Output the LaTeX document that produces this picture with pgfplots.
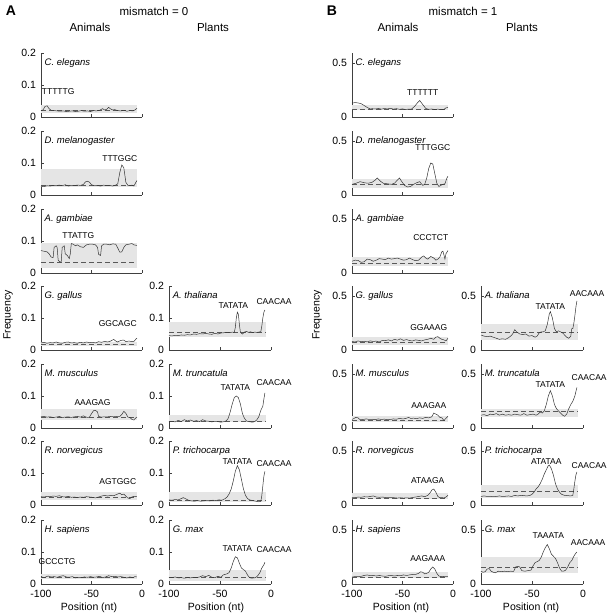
\documentclass[border=0pt]{standalone}
\usepackage{pgfplots}
\pgfplotsset{compat=1.18}
\usepackage{fontspec}
\setmainfont{Liberation Sans}
\definecolor{bandgray}{rgb}{0.9,0.9,0.9}
\pgfplotsset{
  base/.style={scale only axis, height=64pt, xmin=-100, xmax=0, ymin=0,
    axis x line*=bottom, axis y line*=left, tick align=inside, major tick length=2.5pt,
    xtick={-100,-50,0}, xticklabels={}, clip=false, anchor=south west,
    axis line style={line width=0.5pt, black!75}, every tick/.style={line width=0.5pt, black!75},
    tick label style={font=\fontsize{10.5}{12}\selectfont},
    yticklabel style={xshift=-1.5pt, yshift=0.5pt}, xticklabel style={yshift=-2.5pt}},
  colA/.style={base, width=101pt, ymax=0.2, ytick={0,0.1,0.2}, yticklabels={0,0.1,0.2}},
  colA2/.style={base, width=102pt, ymax=0.2, ytick={0,0.1,0.2}, yticklabels={0,0.1,0.2}},
  colB/.style={base, width=101pt, ymax=0.6, ytick={0,0.5}, yticklabels={0,0.5}},
  colB2/.style={base, width=102pt, ymax=0.6, ytick={0,0.5}, yticklabels={0,0.5}},
  bottomrow/.style={xticklabels={-100,-50,0}},
  dline/.style={black!80, line width=0.5pt, mark=none},
  mline/.style={black!65, line width=0.5pt, dash pattern=on 5pt off 3pt},
  bandfill/.style={fill=bandgray, draw=none},
}
\newcommand{\band}[3]{\addplot[bandfill] coordinates {(-100,#1) (#3,#1) (#3,#2) (-100,#2)};}
\newcommand{\mean}[2]{\addplot[mline] coordinates {(-100,#1) (#2,#1)};}
\newcommand{\spname}[1]{\node[anchor=west,inner sep=0,font=\itshape\fontsize{9.5}{11}\selectfont] at (rel axis cs:0.035,0.85) {#1};}
\newcommand{\motif}[3]{\node[inner sep=0,font=\fontsize{8.5}{10}\selectfont] at (axis cs:#1,#2) {#3};}
\begin{document}
\begin{tikzpicture}[x=1pt,y=1pt]
\useasboundingbox (0,0) rectangle (608,615);
% ---------- titles ----------
\node[font=\bfseries\fontsize{14}{16}\selectfont] at (11,604) {A};
\node[font=\fontsize{11.5}{13}\selectfont] at (154,604) {mismatch = 0};
\node[font=\fontsize{11.5}{13}\selectfont] at (90,588) {Animals};
\node[font=\fontsize{11.5}{13}\selectfont] at (213,588) {Plants};
\node[font=\bfseries\fontsize{14}{16}\selectfont] at (332,604) {B};
\node[font=\fontsize{11.5}{13}\selectfont] at (463,604) {mismatch = 1};
\node[font=\fontsize{11.5}{13}\selectfont] at (398,588) {Animals};
\node[font=\fontsize{11.5}{13}\selectfont] at (522,588) {Plants};
\node[rotate=90,font=\fontsize{10.5}{12}\selectfont] at (8,300) {Frequency};
\node[rotate=90,font=\fontsize{10.5}{12}\selectfont] at (317,300) {Frequency};
\node[font=\fontsize{10.5}{12}\selectfont] at (89,7) {Position (nt)};
\node[font=\fontsize{10.5}{12}\selectfont] at (216,7) {Position (nt)};
\node[font=\fontsize{10.5}{12}\selectfont] at (401,7) {Position (nt)};
\node[font=\fontsize{10.5}{12}\selectfont] at (531,7) {Position (nt)};

% ================= PANEL A : animals =================
\begin{axis}[colA, at={(41pt,498pt)}]
\band{0.0125}{0.0375}{-5}
\mean{0.02}{-5}
\addplot[dline] coordinates {(-100,0.02)(-98,0.022)(-96,0.033)(-94,0.035)(-92,0.026)(-90,0.021)(-87,0.02)(-84,0.019)(-81,0.018)(-78,0.019)(-75,0.017)(-72,0.018)(-69,0.019)(-66,0.017)(-63,0.018)(-60,0.02)(-57,0.018)(-54,0.019)(-51,0.017)(-48,0.02)(-45,0.019)(-42,0.021)(-39,0.026)(-37,0.022)(-35,0.024)(-33,0.03)(-31,0.025)(-29,0.022)(-27,0.023)(-24,0.02)(-21,0.019)(-18,0.021)(-15,0.018)(-12,0.02)(-9,0.019)(-7,0.022)(-5,0.027)};
\spname{C. elegans}
\motif{-83}{0.078}{TTTTTG}
\end{axis}

\begin{axis}[colA, at={(41pt,420pt)}]
\band{0.025}{0.08}{-5}
\mean{0.03}{-5}
\addplot[dline] coordinates {(-100,0.027)(-97,0.026)(-94,0.029)(-91,0.028)(-88,0.03)(-85,0.029)(-82,0.031)(-79,0.029)(-76,0.032)(-73,0.028)(-70,0.03)(-67,0.029)(-64,0.031)(-61,0.03)(-58,0.033)(-56,0.041)(-54,0.043)(-52,0.04)(-50,0.032)(-47,0.029)(-44,0.03)(-41,0.028)(-38,0.031)(-35,0.029)(-32,0.03)(-29,0.028)(-26,0.031)(-24,0.035)(-22,0.07)(-20,0.094)(-18,0.085)(-16,0.04)(-14,0.03)(-12,0.029)(-10,0.031)(-8,0.028)(-6,0.04)(-5,0.045)};
\spname{D. melanogaster}
\motif{-22}{0.115}{TTTGGC}
\end{axis}

\begin{axis}[colA, at={(41pt,342pt)}]
\band{0.016}{0.093}{-5}
\mean{0.034}{-5}
\addplot[dline] coordinates {(-100,0.07)(-97,0.068)(-94,0.066)(-92,0.06)(-90,0.05)(-88,0.048)(-87,0.08)(-85,0.085)(-84,0.08)(-83,0.04)(-81,0.034)(-80,0.035)(-79,0.08)(-77,0.085)(-76,0.06)(-74,0.055)(-72,0.045)(-71,0.06)(-70,0.092)(-68,0.09)(-66,0.085)(-64,0.088)(-61,0.082)(-58,0.08)(-55,0.088)(-52,0.09)(-49,0.09)(-46,0.088)(-44,0.08)(-43,0.058)(-41,0.055)(-40,0.085)(-38,0.09)(-35,0.09)(-32,0.088)(-29,0.091)(-26,0.09)(-24,0.078)(-22,0.065)(-20,0.066)(-18,0.08)(-16,0.088)(-13,0.09)(-10,0.092)(-8,0.088)(-5,0.086)};
\spname{A. gambiae}
\motif{-63}{0.118}{TTATTG}
\end{axis}

\begin{axis}[colA, at={(41pt,265pt)}]
\band{0.012}{0.025}{-5}
\mean{0.017}{-5}
\addplot[dline] coordinates {(-100,0.022)(-97,0.024)(-94,0.021)(-91,0.023)(-88,0.022)(-85,0.025)(-82,0.022)(-79,0.021)(-76,0.024)(-73,0.025)(-70,0.022)(-67,0.023)(-64,0.021)(-61,0.024)(-58,0.022)(-55,0.025)(-52,0.023)(-49,0.024)(-46,0.022)(-43,0.026)(-40,0.024)(-37,0.027)(-34,0.025)(-31,0.028)(-28,0.033)(-26,0.028)(-24,0.025)(-21,0.03)(-18,0.031)(-16,0.026)(-13,0.028)(-10,0.026)(-8,0.027)(-6,0.034)(-5,0.037)};
\spname{G. gallus}
\motif{-24}{0.084}{GGCAGC}
\end{axis}

\begin{axis}[colA, at={(41pt,187pt)}]
\band{0.025}{0.058}{-5}
\mean{0.035}{-5}
\addplot[dline] coordinates {(-100,0.035)(-97,0.036)(-94,0.034)(-91,0.035)(-88,0.033)(-85,0.034)(-82,0.036)(-79,0.033)(-76,0.034)(-73,0.035)(-70,0.033)(-67,0.035)(-64,0.036)(-61,0.034)(-58,0.038)(-56,0.035)(-54,0.033)(-52,0.034)(-50,0.045)(-48,0.054)(-46,0.055)(-44,0.05)(-43,0.036)(-40,0.034)(-37,0.035)(-34,0.035)(-31,0.036)(-28,0.035)(-25,0.036)(-22,0.036)(-20,0.042)(-18,0.052)(-16,0.046)(-14,0.034)(-12,0.033)(-10,0.027)(-8,0.025)(-6,0.032)(-5,0.034)};
\spname{M. musculus}
\motif{-49}{0.08}{AAAGAG}
\end{axis}

\begin{axis}[colA, at={(41pt,110pt)}]
\band{0.016}{0.04}{-5}
\mean{0.025}{-5}
\addplot[dline] coordinates {(-100,0.026)(-97,0.025)(-94,0.027)(-91,0.026)(-88,0.028)(-85,0.027)(-82,0.029)(-79,0.026)(-76,0.025)(-73,0.027)(-70,0.024)(-67,0.025)(-64,0.023)(-61,0.025)(-58,0.024)(-55,0.026)(-52,0.025)(-49,0.024)(-46,0.022)(-43,0.025)(-40,0.028)(-37,0.03)(-34,0.028)(-31,0.03)(-28,0.029)(-25,0.033)(-22,0.037)(-20,0.032)(-18,0.034)(-16,0.028)(-14,0.022)(-12,0.02)(-10,0.025)(-8,0.027)(-5,0.026)};
\spname{R. norvegicus}
\motif{-24}{0.073}{AGTGGC}
\end{axis}

\begin{axis}[colA, bottomrow, at={(41pt,31pt)}]
\band{0.015}{0.03}{-5}
\mean{0.022}{-5}
\addplot[dline] coordinates {(-100,0.024)(-98,0.02)(-96,0.021)(-93,0.025)(-90,0.022)(-87,0.023)(-84,0.021)(-81,0.024)(-78,0.026)(-75,0.022)(-72,0.021)(-69,0.023)(-66,0.019)(-63,0.021)(-60,0.02)(-57,0.022)(-54,0.021)(-51,0.023)(-48,0.021)(-45,0.022)(-42,0.024)(-39,0.02)(-36,0.022)(-33,0.026)(-30,0.023)(-27,0.024)(-24,0.022)(-21,0.023)(-18,0.021)(-15,0.019)(-12,0.022)(-9,0.02)(-7,0.023)(-5,0.022)};
\spname{H. sapiens}
\motif{-84}{0.07}{GCCCTG}
\end{axis}

% ================= PANEL A : plants =================
\begin{axis}[colA2, at={(169pt,265pt)}]
\band{0.042}{0.087}{-5}
\mean{0.057}{-5}
\addplot[dline] coordinates {(-100,0.045)(-97,0.044)(-94,0.046)(-91,0.045)(-88,0.047)(-85,0.046)(-82,0.048)(-79,0.047)(-76,0.05)(-73,0.049)(-70,0.051)(-67,0.05)(-64,0.052)(-61,0.05)(-58,0.049)(-55,0.052)(-52,0.05)(-49,0.053)(-46,0.054)(-43,0.055)(-40,0.054)(-38,0.056)(-36,0.055)(-35,0.07)(-34,0.1)(-33,0.118)(-32,0.112)(-31,0.08)(-30,0.055)(-28,0.05)(-26,0.056)(-24,0.058)(-22,0.055)(-20,0.057)(-18,0.054)(-16,0.056)(-14,0.055)(-12,0.056)(-10,0.057)(-9,0.075)(-8,0.1)(-7,0.118)(-6,0.125)};
\spname{A. thaliana}
\motif{-37}{0.14}{TATATA}
\motif{3}{0.15}{CAACAA}
\end{axis}

\begin{axis}[colA2, at={(169pt,187pt)}]
\band{0.02}{0.04}{-5}
\mean{0.02}{-5}
\addplot[dline] coordinates {(-100,0.02)(-97,0.021)(-94,0.019)(-91,0.024)(-88,0.02)(-85,0.026)(-82,0.022)(-79,0.025)(-76,0.021)(-73,0.023)(-70,0.02)(-67,0.026)(-64,0.022)(-61,0.021)(-58,0.019)(-55,0.021)(-52,0.02)(-49,0.018)(-46,0.02)(-44,0.022)(-42,0.03)(-40,0.05)(-38,0.075)(-36,0.095)(-34,0.1)(-32,0.095)(-30,0.075)(-28,0.045)(-26,0.03)(-24,0.022)(-22,0.02)(-20,0.019)(-18,0.018)(-16,0.02)(-14,0.025)(-12,0.035)(-10,0.055)(-9,0.062)(-8,0.068)(-7,0.09)(-6,0.11)};
\spname{M. truncatula}
\motif{-35}{0.125}{TATATA}
\motif{3}{0.142}{CAACAA}
\end{axis}

\begin{axis}[colA2, at={(169pt,110pt)}]
\band{0.01}{0.042}{-5}
\mean{0.015}{-5}
\addplot[dline] coordinates {(-100,0.016)(-97,0.015)(-94,0.017)(-91,0.016)(-88,0.02)(-86,0.023)(-84,0.02)(-81,0.015)(-78,0.013)(-75,0.012)(-72,0.014)(-69,0.012)(-66,0.013)(-63,0.014)(-60,0.013)(-57,0.015)(-54,0.014)(-51,0.016)(-48,0.015)(-45,0.02)(-43,0.025)(-41,0.035)(-39,0.05)(-37,0.075)(-35,0.105)(-33,0.123)(-31,0.11)(-29,0.08)(-27,0.05)(-25,0.03)(-23,0.02)(-21,0.016)(-18,0.014)(-15,0.012)(-12,0.01)(-10,0.011)(-9,0.03)(-8,0.06)(-7,0.09)(-6,0.105)};
\spname{P. trichocarpa}
\motif{-33}{0.135}{TATATA}
\motif{3}{0.13}{CAACAA}
\end{axis}

\begin{axis}[colA2, bottomrow, at={(169pt,31pt)}]
\band{0.008}{0.045}{-5}
\mean{0.02}{-5}
\addplot[dline] coordinates {(-100,0.021)(-97,0.02)(-94,0.022)(-91,0.019)(-88,0.02)(-85,0.018)(-82,0.02)(-79,0.019)(-76,0.021)(-73,0.02)(-70,0.022)(-67,0.026)(-64,0.023)(-61,0.027)(-58,0.021)(-55,0.02)(-52,0.024)(-49,0.021)(-47,0.028)(-45,0.03)(-43,0.032)(-41,0.036)(-39,0.05)(-37,0.07)(-35,0.085)(-33,0.082)(-31,0.065)(-29,0.05)(-27,0.045)(-25,0.04)(-23,0.028)(-21,0.02)(-19,0.018)(-17,0.019)(-15,0.02)(-13,0.026)(-11,0.035)(-9,0.05)(-7,0.06)(-6,0.068)};
\spname{G. max}
\motif{-33}{0.111}{TATATA}
\motif{3}{0.108}{CAACAA}
\end{axis}

% ================= PANEL B : animals =================
\begin{axis}[colB, at={(352pt,498pt)}]
\band{0.066}{0.11}{-5}
\mean{0.075}{-5}
\addplot[dline] coordinates {(-100,0.13)(-97,0.135)(-94,0.132)(-91,0.125)(-88,0.108)(-85,0.09)(-82,0.075)(-80,0.078)(-77,0.075)(-74,0.08)(-71,0.074)(-68,0.079)(-65,0.076)(-62,0.081)(-59,0.074)(-56,0.078)(-53,0.072)(-50,0.076)(-47,0.07)(-44,0.074)(-41,0.075)(-38,0.1)(-35,0.135)(-33,0.155)(-31,0.13)(-29,0.105)(-27,0.08)(-24,0.072)(-21,0.075)(-18,0.07)(-15,0.074)(-12,0.068)(-9,0.072)(-7,0.085)(-5,0.09)};
\spname{C. elegans}
\motif{-30}{0.23}{TTTTTT}
\end{axis}

\begin{axis}[colB, at={(352pt,420pt)}]
\band{0.063}{0.147}{-5}
\mean{0.1}{-5}
\addplot[dline] coordinates {(-100,0.1)(-96,0.11)(-92,0.125)(-88,0.115)(-84,0.11)(-80,0.12)(-77,0.14)(-75,0.16)(-72,0.13)(-69,0.11)(-65,0.105)(-61,0.1)(-58,0.11)(-55,0.14)(-53,0.16)(-51,0.13)(-48,0.09)(-45,0.075)(-42,0.08)(-39,0.1)(-36,0.115)(-33,0.125)(-30,0.09)(-28,0.1)(-26,0.16)(-24,0.25)(-22,0.3)(-20,0.29)(-18,0.2)(-16,0.11)(-14,0.08)(-12,0.09)(-10,0.1)(-8,0.105)(-6,0.16)(-5,0.175)};
\spname{D. melanogaster}
\motif{-20}{0.44}{TTTGGC}
\end{axis}

\begin{axis}[colB, at={(352pt,342pt)}]
\band{0.07}{0.15}{-5}
\mean{0.095}{-5}
\addplot[dline] coordinates {(-100,0.11)(-97,0.12)(-94,0.118)(-91,0.1)(-88,0.105)(-85,0.13)(-82,0.125)(-79,0.11)(-76,0.12)(-73,0.135)(-70,0.13)(-67,0.125)(-64,0.14)(-61,0.13)(-58,0.135)(-55,0.14)(-52,0.13)(-49,0.12)(-46,0.125)(-43,0.14)(-40,0.125)(-37,0.115)(-34,0.12)(-31,0.15)(-29,0.16)(-27,0.14)(-25,0.13)(-22,0.155)(-19,0.14)(-17,0.12)(-15,0.13)(-13,0.15)(-11,0.2)(-10,0.205)(-9,0.17)(-8,0.13)(-7,0.18)(-5,0.21)};
\spname{A. gambiae}
\motif{-22}{0.33}{CCCTCT}
\end{axis}

\begin{axis}[colB, at={(352pt,265pt)}]
\band{0.047}{0.12}{-5}
\mean{0.069}{-5}
\addplot[dline] coordinates {(-100,0.08)(-97,0.075)(-94,0.085)(-91,0.078)(-88,0.082)(-85,0.076)(-82,0.085)(-79,0.08)(-76,0.083)(-73,0.075)(-70,0.09)(-67,0.088)(-64,0.095)(-61,0.085)(-58,0.1)(-55,0.092)(-52,0.105)(-49,0.09)(-46,0.098)(-43,0.088)(-40,0.085)(-37,0.095)(-34,0.09)(-31,0.085)(-28,0.095)(-25,0.1)(-22,0.11)(-19,0.1)(-17,0.12)(-15,0.125)(-13,0.11)(-11,0.1)(-9,0.095)(-7,0.085)(-5,0.11)};
\spname{G. gallus}
\motif{-24}{0.21}{GGAAAG}
\end{axis}

\begin{axis}[colB, at={(352pt,187pt)}]
\band{0.06}{0.11}{-5}
\mean{0.068}{-5}
\addplot[dline] coordinates {(-100,0.08)(-98,0.09)(-96,0.1)(-94,0.095)(-92,0.078)(-89,0.08)(-86,0.085)(-83,0.08)(-80,0.082)(-77,0.078)(-74,0.085)(-71,0.08)(-68,0.083)(-65,0.078)(-62,0.08)(-59,0.085)(-56,0.082)(-53,0.09)(-50,0.085)(-47,0.088)(-44,0.1)(-42,0.09)(-39,0.092)(-36,0.088)(-33,0.095)(-30,0.09)(-27,0.1)(-24,0.095)(-21,0.105)(-19,0.14)(-17,0.13)(-15,0.12)(-13,0.1)(-11,0.095)(-9,0.07)(-7,0.09)(-5,0.11)};
\spname{M. musculus}
\motif{-24}{0.21}{AAAGAA}
\end{axis}

\begin{axis}[colB, at={(352pt,110pt)}]
\band{0.053}{0.11}{-5}
\mean{0.063}{-5}
\addplot[dline] coordinates {(-100,0.07)(-97,0.068)(-94,0.075)(-91,0.072)(-88,0.078)(-85,0.075)(-82,0.08)(-79,0.085)(-76,0.075)(-73,0.072)(-70,0.075)(-67,0.07)(-64,0.068)(-61,0.07)(-58,0.068)(-55,0.065)(-52,0.068)(-49,0.065)(-46,0.067)(-43,0.065)(-40,0.07)(-37,0.075)(-34,0.08)(-31,0.085)(-28,0.078)(-25,0.09)(-23,0.11)(-21,0.14)(-19,0.15)(-17,0.12)(-15,0.08)(-13,0.068)(-11,0.07)(-9,0.065)(-7,0.075)(-5,0.09)};
\spname{R. norvegicus}
\motif{-25}{0.225}{ATAAGA}
\end{axis}

\begin{axis}[colB, bottomrow, at={(352pt,31pt)}]
\band{0.053}{0.11}{-5}
\mean{0.065}{-5}
\addplot[dline] coordinates {(-100,0.065)(-97,0.07)(-94,0.068)(-91,0.072)(-88,0.08)(-85,0.085)(-82,0.078)(-79,0.08)(-76,0.075)(-73,0.08)(-70,0.075)(-67,0.072)(-64,0.078)(-61,0.08)(-58,0.075)(-55,0.08)(-52,0.078)(-49,0.085)(-46,0.08)(-43,0.085)(-40,0.09)(-37,0.09)(-34,0.1)(-32,0.115)(-30,0.11)(-28,0.095)(-26,0.1)(-24,0.11)(-22,0.14)(-20,0.16)(-18,0.14)(-16,0.1)(-14,0.075)(-12,0.07)(-10,0.072)(-8,0.068)(-5,0.07)};
\spname{H. sapiens}
\motif{-25}{0.24}{AAGAAA}
\end{axis}

% ================= PANEL B : plants =================
\begin{axis}[colB2, at={(481pt,265pt)}]
\band{0.094}{0.24}{-5}
\mean{0.166}{-5}
\addplot[dline] coordinates {(-100,0.14)(-97,0.13)(-94,0.125)(-91,0.13)(-88,0.12)(-85,0.11)(-82,0.1)(-79,0.105)(-76,0.1)(-73,0.115)(-71,0.13)(-69,0.15)(-67,0.19)(-65,0.17)(-62,0.15)(-59,0.145)(-56,0.15)(-53,0.13)(-50,0.135)(-47,0.12)(-45,0.13)(-43,0.16)(-41,0.17)(-39,0.17)(-37,0.18)(-35,0.24)(-33,0.34)(-32,0.36)(-30,0.3)(-28,0.2)(-26,0.17)(-24,0.18)(-22,0.17)(-20,0.16)(-18,0.14)(-16,0.12)(-14,0.11)(-12,0.13)(-11,0.2)(-10,0.2)(-9,0.25)(-8,0.32)(-7,0.4)(-6,0.46)};
\spname{A. thaliana}
\motif{-32}{0.41}{TATATA}
\motif{4}{0.53}{AACAAA}
\end{axis}

\begin{axis}[colB2, at={(481pt,187pt)}]
\band{0.106}{0.175}{-5}
\mean{0.16}{-5}
\addplot[dline] coordinates {(-100,0.12)(-97,0.125)(-94,0.115)(-91,0.13)(-88,0.125)(-85,0.135)(-82,0.12)(-79,0.13)(-76,0.12)(-73,0.125)(-70,0.12)(-67,0.13)(-64,0.125)(-61,0.12)(-58,0.135)(-55,0.12)(-52,0.125)(-49,0.13)(-46,0.12)(-44,0.13)(-42,0.15)(-40,0.14)(-38,0.16)(-36,0.22)(-34,0.3)(-32,0.35)(-30,0.3)(-28,0.22)(-26,0.18)(-24,0.16)(-22,0.14)(-20,0.12)(-18,0.11)(-16,0.13)(-14,0.18)(-12,0.22)(-10,0.25)(-8,0.3)(-6,0.38)};
\spname{M. truncatula}
\motif{-32}{0.41}{TATATA}
\motif{6}{0.47}{CAACAA}
\end{axis}

\begin{axis}[colB2, at={(481pt,110pt)}]
\band{0.069}{0.19}{-5}
\mean{0.13}{-5}
\addplot[dline] coordinates {(-100,0.08)(-97,0.085)(-94,0.08)(-91,0.082)(-88,0.078)(-85,0.08)(-82,0.085)(-79,0.08)(-76,0.082)(-73,0.085)(-70,0.08)(-67,0.09)(-64,0.085)(-61,0.09)(-58,0.088)(-55,0.085)(-52,0.09)(-50,0.1)(-48,0.12)(-46,0.15)(-44,0.17)(-42,0.2)(-40,0.24)(-38,0.29)(-36,0.33)(-34,0.37)(-33,0.375)(-31,0.34)(-29,0.28)(-27,0.2)(-25,0.15)(-23,0.12)(-21,0.1)(-18,0.09)(-15,0.088)(-12,0.085)(-10,0.09)(-9,0.15)(-8,0.22)(-7,0.28)(-6,0.31)};
\spname{P. trichocarpa}
\motif{-36}{0.41}{ATATAA}
\motif{6}{0.37}{CAACAA}
\end{axis}

\begin{axis}[colB2, bottomrow, at={(481pt,31pt)}]
\band{0.1}{0.256}{-5}
\mean{0.16}{-5}
\addplot[dline] coordinates {(-100,0.12)(-98,0.11)(-96,0.115)(-94,0.14)(-92,0.145)(-90,0.12)(-88,0.11)(-86,0.105)(-83,0.12)(-80,0.115)(-77,0.12)(-74,0.115)(-71,0.12)(-68,0.118)(-66,0.16)(-64,0.165)(-62,0.16)(-60,0.125)(-57,0.12)(-54,0.125)(-51,0.13)(-49,0.17)(-47,0.2)(-45,0.21)(-43,0.22)(-41,0.25)(-39,0.3)(-37,0.34)(-35,0.37)(-33,0.33)(-31,0.28)(-29,0.26)(-27,0.24)(-25,0.2)(-23,0.15)(-21,0.12)(-19,0.12)(-17,0.13)(-15,0.16)(-13,0.2)(-11,0.22)(-9,0.26)(-7,0.29)(-6,0.3)};
\spname{G. max}
\motif{-34}{0.45}{TAAATA}
\motif{5}{0.39}{AACAAA}
\end{axis}
\end{tikzpicture}
\end{document}
